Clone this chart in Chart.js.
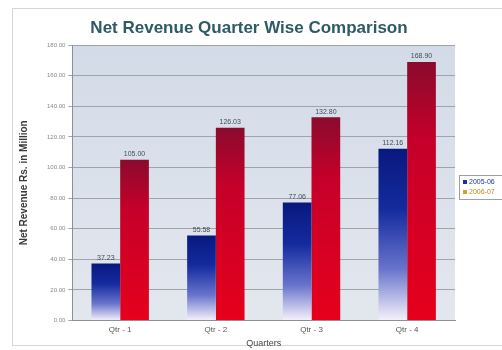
<!DOCTYPE html>
<html>
<head>
<meta charset="utf-8">
<script src="https://cdn.jsdelivr.net/npm/chart.js@4"></script>
<style>
  html, body { margin: 0; padding: 0; background: #fff; overflow: hidden; }
  #wrap { position: relative; width: 502px; height: 350px; }
  #frame { position: absolute; left: 12px; top: 8px; width: 500px; height: 338px; border: 1px solid #d4d8dc; box-sizing: border-box; }
  canvas { position: absolute; left: 0; top: 0; }
</style>
</head>
<body>
<div id="wrap">
  <div id="frame"></div>
  <canvas id="chart" width="502" height="350"></canvas>
</div>
<script>
// chart data
const chartTitle = 'Net Revenue Quarter Wise Comparison';
const quarters = ['Qtr - 1', 'Qtr - 2', 'Qtr - 3', 'Qtr - 4'];
const seriesNames = ['2005-06', '2006-07'];
const rev2005 = [37.23, 55.58, 77.06, 112.16];
const rev2006 = [105.00, 126.03, 132.80, 168.90];

const FONT = '"Liberation Sans", Arial, sans-serif';

// gradient per bar, dark at the top and fading downwards
function barGradient(ctx, stops) {
  const chart = ctx.chart;
  const area = chart.chartArea;
  if (!area || ctx.parsed == null) return stops[0][1];
  const y = chart.scales.y;
  const top = y.getPixelForValue(ctx.parsed.y);
  const bottom = y.getPixelForValue(0);
  const g = chart.ctx.createLinearGradient(0, top, 0, bottom);
  stops.forEach(s => g.addColorStop(s[0], s[1]));
  return g;
}

const blueStops = [[0, '#08187e'], [0.35, '#142b9e'], [0.7, '#6874cc'], [1, '#f6f2fb']];
const redStops = [[0, '#8a0b2e'], [0.3, '#c5002a'], [1, '#e6001c']];

// plot background + title
const plotBg = {
  id: 'plotBg',
  beforeDraw(chart) {
    const { ctx, chartArea: a } = chart;
    const g = ctx.createLinearGradient(0, a.top, 0, a.bottom);
    g.addColorStop(0, '#d3dbe8');
    g.addColorStop(1, '#e3e7ee');
    ctx.save();
    ctx.fillStyle = g;
    ctx.fillRect(a.left, a.top, a.right - a.left, a.bottom - a.top);
    ctx.font = 'bold 17px ' + FONT;
    ctx.fillStyle = '#2e5a64';
    ctx.textAlign = 'center';
    ctx.textBaseline = 'middle';
    ctx.fillText(chartTitle, 249, 28);
    ctx.restore();
  }
};

// value labels above bars
const valueLabels = {
  id: 'valueLabels',
  afterDatasetsDraw(chart) {
    const ctx = chart.ctx;
    ctx.save();
    ctx.font = '7px ' + FONT;
    ctx.fillStyle = '#3c4f5a';
    ctx.textAlign = 'center';
    ctx.textBaseline = 'bottom';
    chart.data.datasets.forEach((ds, i) => {
      chart.getDatasetMeta(i).data.forEach((bar, j) => {
        ctx.fillText(ds.data[j].toFixed(2), bar.x, bar.y - 2);
      });
    });
    ctx.restore();
  }
};

// small boxed legend at the right of the plot, runs off the edge
const sideLegend = {
  id: 'sideLegend',
  afterDraw(chart) {
    const ctx = chart.ctx;
    const a = chart.chartArea;
    const x = a.right + 4, y = 175, w = 60, h = 24;
    ctx.save();
    ctx.fillStyle = '#ffffff';
    ctx.fillRect(x, y, w, h);
    ctx.strokeStyle = '#9aa0a6';
    ctx.lineWidth = 1;
    ctx.strokeRect(x + 0.5, y + 0.5, w, h);
    const cols = ['#1a31a6', '#d8a020'];
    const txt = ['#1a31a6', '#c8801a'];
    ctx.font = '7px ' + FONT;
    ctx.textBaseline = 'middle';
    seriesNames.forEach((name, i) => {
      const cy = y + 7 + i * 10;
      ctx.fillStyle = cols[i];
      ctx.fillRect(x + 4, cy - 2, 4, 4);
      ctx.fillStyle = txt[i];
      ctx.fillText(name, x + 10, cy);
    });
    ctx.restore();
  }
};

new Chart(document.getElementById('chart'), {
  type: 'bar',
  data: {
    labels: quarters,
    datasets: [
      {
        label: seriesNames[0],
        data: rev2005,
        backgroundColor: c => barGradient(c, blueStops),
        borderWidth: 0
      },
      {
        label: seriesNames[1],
        data: rev2006,
        backgroundColor: c => barGradient(c, redStops),
        borderWidth: 0
      }
    ]
  },
  options: {
    responsive: false,
    animation: false,
    categoryPercentage: 0.6,
    barPercentage: 1.0,
    layout: { padding: { left: 18, right: 47, top: 45, bottom: 1 } },
    plugins: {
      legend: { display: false },
      tooltip: { enabled: false }
    },
    scales: {
      x: {
        grid: { display: false, drawTicks: false },
        border: { color: '#8a9098' },
        ticks: { color: '#555', font: { family: FONT, size: 8 }, padding: 4 },
        title: {
          display: true,
          text: 'Quarters',
          color: '#444',
          font: { family: FONT, size: 9 },
          padding: { top: 0, bottom: 0 }
        }
      },
      y: {
        min: 0,
        max: 180,
        ticks: {
          stepSize: 20,
          color: '#8a8a8a',
          font: { family: FONT, size: 6 },
          padding: 3,
          callback: v => v.toFixed(2)
        },
        grid: { color: '#9ea4aa', tickLength: 4 },
        border: { color: '#8a9098' },
        title: {
          display: true,
          text: 'Net Revenue Rs. in Million',
          color: '#3a3a3a',
          font: { family: FONT, size: 10, weight: 'bold' },
          padding: { top: 0, bottom: 14 }
        }
      }
    }
  },
  plugins: [plotBg, valueLabels, sideLegend]
});
</script>
</body>
</html>
